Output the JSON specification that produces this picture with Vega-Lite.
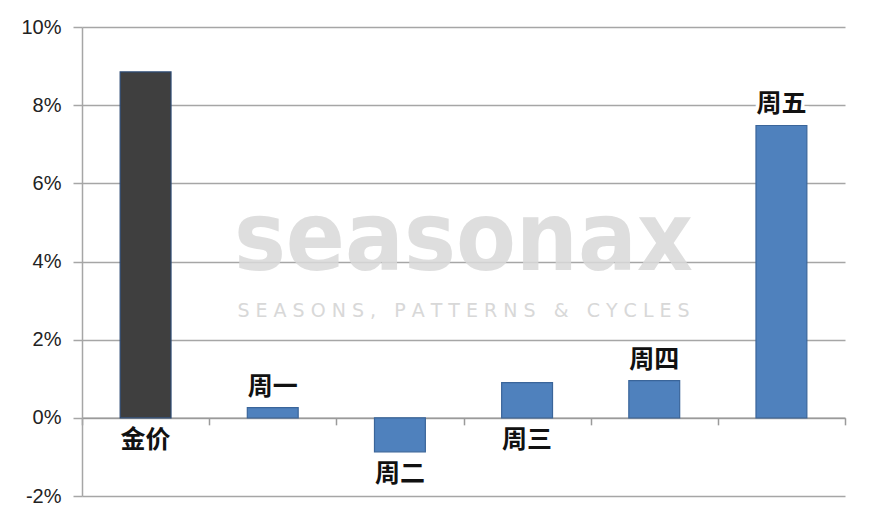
{
  "$schema": "https://vega.github.io/schema/vega-lite/v6.json",
  "width": 763,
  "height": 469,
  "autosize": {"type": "none"},
  "padding": {"left": 82, "top": 27, "right": 30, "bottom": 32},
  "background": "white",
  "config": {"view": {"stroke": null}},
  "data": {
    "values": [
      {"cat": "金价", "value": 8.85, "kind": "gold"},
      {"cat": "周一", "value": 0.26, "kind": "day"},
      {"cat": "周二", "value": -0.87, "kind": "day"},
      {"cat": "周三", "value": 0.9, "kind": "day"},
      {"cat": "周四", "value": 0.95, "kind": "day"},
      {"cat": "周五", "value": 7.48, "kind": "day"}
    ]
  },
  "encoding": {
    "x": {
      "field": "cat",
      "type": "nominal",
      "sort": null,
      "scale": {"paddingInner": 0, "paddingOuter": 0},
      "axis": {
        "title": null,
        "labels": false,
        "grid": false,
        "ticks": true,
        "tickBand": "extent",
        "tickSize": 7,
        "tickColor": "#9a9a9a",
        "tickWidth": 1.5,
        "domainColor": "#9a9a9a",
        "domainWidth": 1.5,
        "offset": {"expr": "-(height - scale('y', 0))"}
      }
    }
  },
  "layer": [
    {
      "data": {"values": [{"t": "seasonax", "v": 4.52}]},
      "mark": {"type": "text", "x": {"expr": "width/2"}, "font": "DejaVu Sans Condensed, DejaVu Sans", "fontWeight": "bold", "fontSize": 97, "color": "#d9d9d9", "opacity": 0.85, "baseline": "middle", "align": "center"},
      "encoding": {"x": null, "y": {"field": "v", "type": "quantitative"}, "text": {"field": "t"}}
    },
    {
      "data": {"values": [{"t": "S E A S O N S ,\u00a0\u00a0 P A T T E R N S \u00a0\u00a0& \u00a0\u00a0C Y C L E S", "v": 2.74}]},
      "mark": {"type": "text", "x": {"expr": "width/2"}, "font": "DejaVu Sans", "fontWeight": "normal", "fontSize": 19, "color": "#d4d4d4", "opacity": 0.9, "baseline": "middle", "align": "center"},
      "encoding": {"x": null, "y": {"field": "v", "type": "quantitative"}, "text": {"field": "t"}}
    },
    {
      "mark": {"type": "bar", "strokeWidth": 1.2, "width": {"band": 0.4}},
      "encoding": {
        "y": {
          "field": "value",
          "type": "quantitative",
          "scale": {"domain": [-2, 10], "nice": false},
          "axis": {
            "title": null,
            "values": [-2, 0, 2, 4, 6, 8, 10],
            "labelExpr": "datum.value + '%'",
            "grid": true,
            "gridColor": "#a6a6a6",
            "gridWidth": 1.5,
            "domainColor": "#a6a6a6",
            "domainWidth": 1.5,
            "tickColor": "#a6a6a6",
            "tickWidth": 1.5,
            "tickSize": 9,
            "labelPadding": 12,
            "labelFont": "Liberation Sans",
            "labelFontSize": 20,
            "labelColor": "#222222"
          }
        },
        "y2": {"datum": 0},
        "color": {
          "field": "kind",
          "type": "nominal",
          "scale": {"domain": ["gold", "day"], "range": ["#3f3f3f", "#4f81bd"]},
          "legend": null
        },
        "stroke": {
          "field": "kind",
          "type": "nominal",
          "scale": {"domain": ["gold", "day"], "range": ["#2c4a73", "#3a659a"]},
          "legend": null
        }
      }
    },
    {
      "transform": [{"filter": {"field": "cat", "oneOf": ["周一", "周四", "周五"]}}],
      "mark": {"type": "text", "baseline": "bottom", "dy": -8, "font": "Noto Sans CJK SC", "fontWeight": "bold", "fontSize": 25, "stroke": "white", "strokeWidth": 7, "fill": "white"},
      "encoding": {"y": {"field": "value", "type": "quantitative"}, "text": {"field": "cat"}}
    },
    {
      "transform": [{"filter": {"field": "cat", "oneOf": ["周一", "周四", "周五"]}}],
      "mark": {"type": "text", "baseline": "bottom", "dy": -8, "font": "Noto Sans CJK SC", "fontWeight": "bold", "fontSize": 25, "color": "#111111"},
      "encoding": {"y": {"field": "value", "type": "quantitative"}, "text": {"field": "cat"}}
    },
    {
      "transform": [
        {"filter": {"field": "cat", "oneOf": ["金价", "周二", "周三"]}},
        {"calculate": "min(datum.value, 0)", "as": "anchor"}
      ],
      "mark": {"type": "text", "baseline": "top", "dy": 10, "font": "Noto Sans CJK SC", "fontWeight": "bold", "fontSize": 25, "stroke": "white", "strokeWidth": 7, "fill": "white"},
      "encoding": {"y": {"field": "anchor", "type": "quantitative"}, "text": {"field": "cat"}}
    },
    {
      "transform": [
        {"filter": {"field": "cat", "oneOf": ["金价", "周二", "周三"]}},
        {"calculate": "min(datum.value, 0)", "as": "anchor"}
      ],
      "mark": {"type": "text", "baseline": "top", "dy": 10, "font": "Noto Sans CJK SC", "fontWeight": "bold", "fontSize": 25, "color": "#111111"},
      "encoding": {"y": {"field": "anchor", "type": "quantitative"}, "text": {"field": "cat"}}
    }
  ]
}
